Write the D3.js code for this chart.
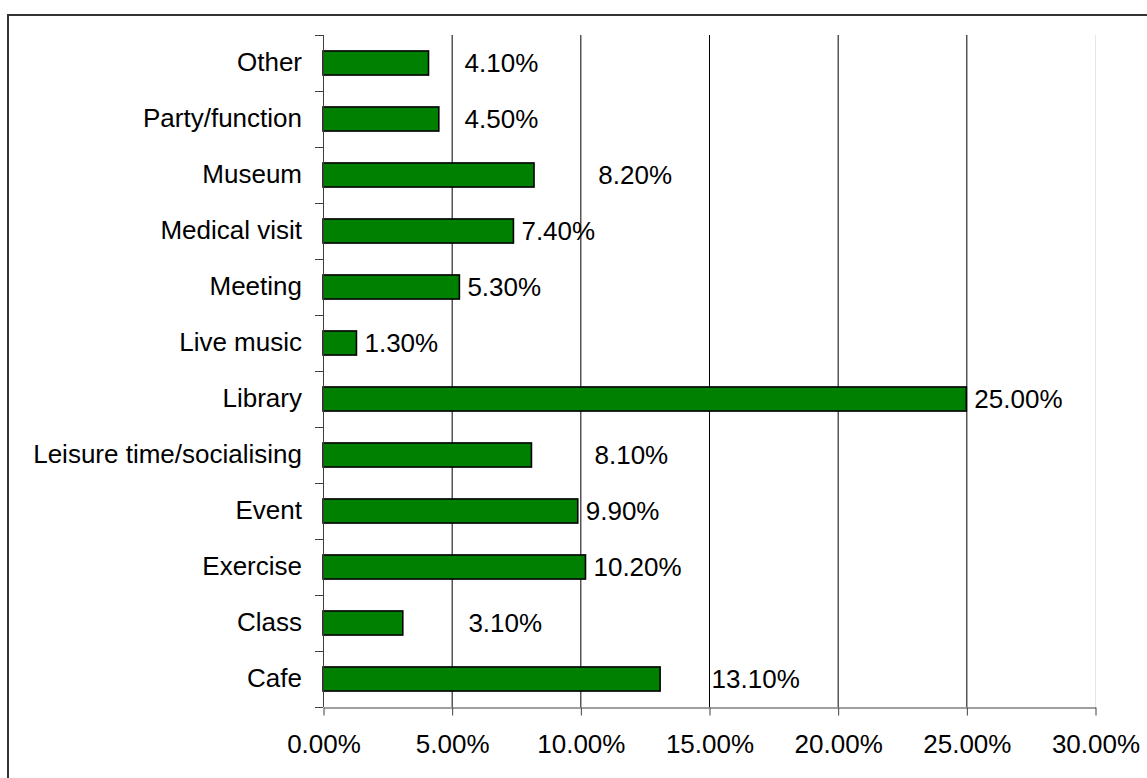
<!DOCTYPE html>
<html lang="en">
<head>
    <meta charset="UTF-8">
    <title>Bar chart</title>
    <style>
        body {
            margin: 0;
            padding: 0;
            background: #fff;
            font-family: Arial, "Liberation Sans", sans-serif;
        }
        svg {
            display: block;
        }
    </style>
</head>
<body>
    <div id="chart"></div>

    <script src="https://d3js.org/d3.v7.min.js"></script>
    <script>
        // Data (top to bottom as shown)
        const categories = ["Other", "Party/function", "Museum", "Medical visit", "Meeting", "Live music",
            "Library", "Leisure time/socialising", "Event", "Exercise", "Class", "Cafe"];
        const values = [4.1, 4.5, 8.2, 7.4, 5.3, 1.3, 25.0, 8.1, 9.9, 10.2, 3.1, 13.1];
        const xTicks = [0, 5, 10, 15, 20, 25, 30];

        // where the value labels start (in % units); null = just after the bar
        const labelAt = [5.5, 5.5, 10.7, null, null, null, null, 10.55, null, null, 5.65, 15.1];

        const W = 1147, H = 778;
        const FS = 26;
        const plot = { left: 323, right: 1095, top: 35, bottom: 707 };

        const svg = d3.select("#chart")
            .append("svg")
            .attr("width", W)
            .attr("height", H);

        // outer frame
        svg.append("rect")
            .attr("x", 8)
            .attr("y", 15)
            .attr("width", 1160)
            .attr("height", 800)
            .attr("fill", "none")
            .attr("stroke", "#333")
            .attr("stroke-width", 2);

        const x = d3.scaleLinear()
            .domain([0, 30])
            .range([plot.left, plot.right]);

        const y = d3.scaleBand()
            .domain(categories)
            .range([plot.top, plot.bottom])
            .paddingInner(0.57)
            .paddingOuter(0.285);

        const yBand = d3.scaleBand()
            .domain(categories)
            .range([plot.top, plot.bottom]);

        // vertical gridlines
        svg.append("g")
            .selectAll("line")
            .data(xTicks.filter(d => d > 0))
            .enter()
            .append("line")
            .attr("x1", d => x(d) + 0.5)
            .attr("x2", d => x(d) + 0.5)
            .attr("y1", plot.top)
            .attr("y2", plot.bottom)
            .attr("stroke", d => d === 30 ? "#e6e6e6" : "#000")
            .attr("stroke-width", 1);

        // bars
        svg.append("g")
            .selectAll("rect")
            .data(values)
            .enter()
            .append("rect")
            .attr("x", x(0))
            .attr("y", (d, i) => y(categories[i]))
            .attr("width", d => x(d) - x(0))
            .attr("height", y.bandwidth())
            .attr("fill", "#008000")
            .attr("stroke", "#000")
            .attr("stroke-width", 1.6);

        // value labels
        svg.append("g")
            .selectAll("text")
            .data(values)
            .enter()
            .append("text")
            .attr("x", (d, i) => labelAt[i] != null ? x(labelAt[i]) : x(d) + 8)
            .attr("y", (d, i) => y(categories[i]) + y.bandwidth() / 2)
            .attr("dy", "0.35em")
            .attr("font-size", FS)
            .attr("fill", "#000")
            .text(d => d.toFixed(2) + "%");

        // y axis: category labels
        const yAxis = svg.append("g")
            .attr("transform", `translate(${plot.left},0)`)
            .call(d3.axisLeft(y).tickSize(0).tickPadding(21));
        yAxis.select(".domain").remove();
        yAxis.selectAll("text")
            .attr("font-size", FS)
            .attr("font-family", "Arial, 'Liberation Sans', sans-serif")
            .attr("fill", "#000");

        // y axis line and boundary ticks
        const bounds = categories.map(c => yBand(c)).concat([plot.bottom]);
        svg.append("g")
            .selectAll("line")
            .data(bounds)
            .enter()
            .append("line")
            .attr("x1", plot.left - 8)
            .attr("x2", plot.left)
            .attr("y1", d => d + 0.5)
            .attr("y2", d => d + 0.5)
            .attr("stroke", "#404040");
        svg.append("line")
            .attr("x1", plot.left + 0.5)
            .attr("x2", plot.left + 0.5)
            .attr("y1", plot.top)
            .attr("y2", plot.bottom)
            .attr("stroke", "#404040");

        // x axis
        const xAxis = svg.append("g")
            .attr("transform", `translate(0.5,${plot.bottom + 0.5})`)
            .call(d3.axisBottom(x)
                .tickValues(xTicks)
                .tickSize(8)
                .tickSizeOuter(0)
                .tickPadding(19)
                .tickFormat(d => d.toFixed(2) + "%"));
        xAxis.select(".domain").attr("stroke", "#404040");
        xAxis.selectAll(".tick line").attr("stroke", "#404040");
        xAxis.selectAll("text")
            .attr("font-size", FS)
            .attr("font-family", "Arial, 'Liberation Sans', sans-serif")
            .attr("fill", "#000");
    </script>
</body>
</html>
